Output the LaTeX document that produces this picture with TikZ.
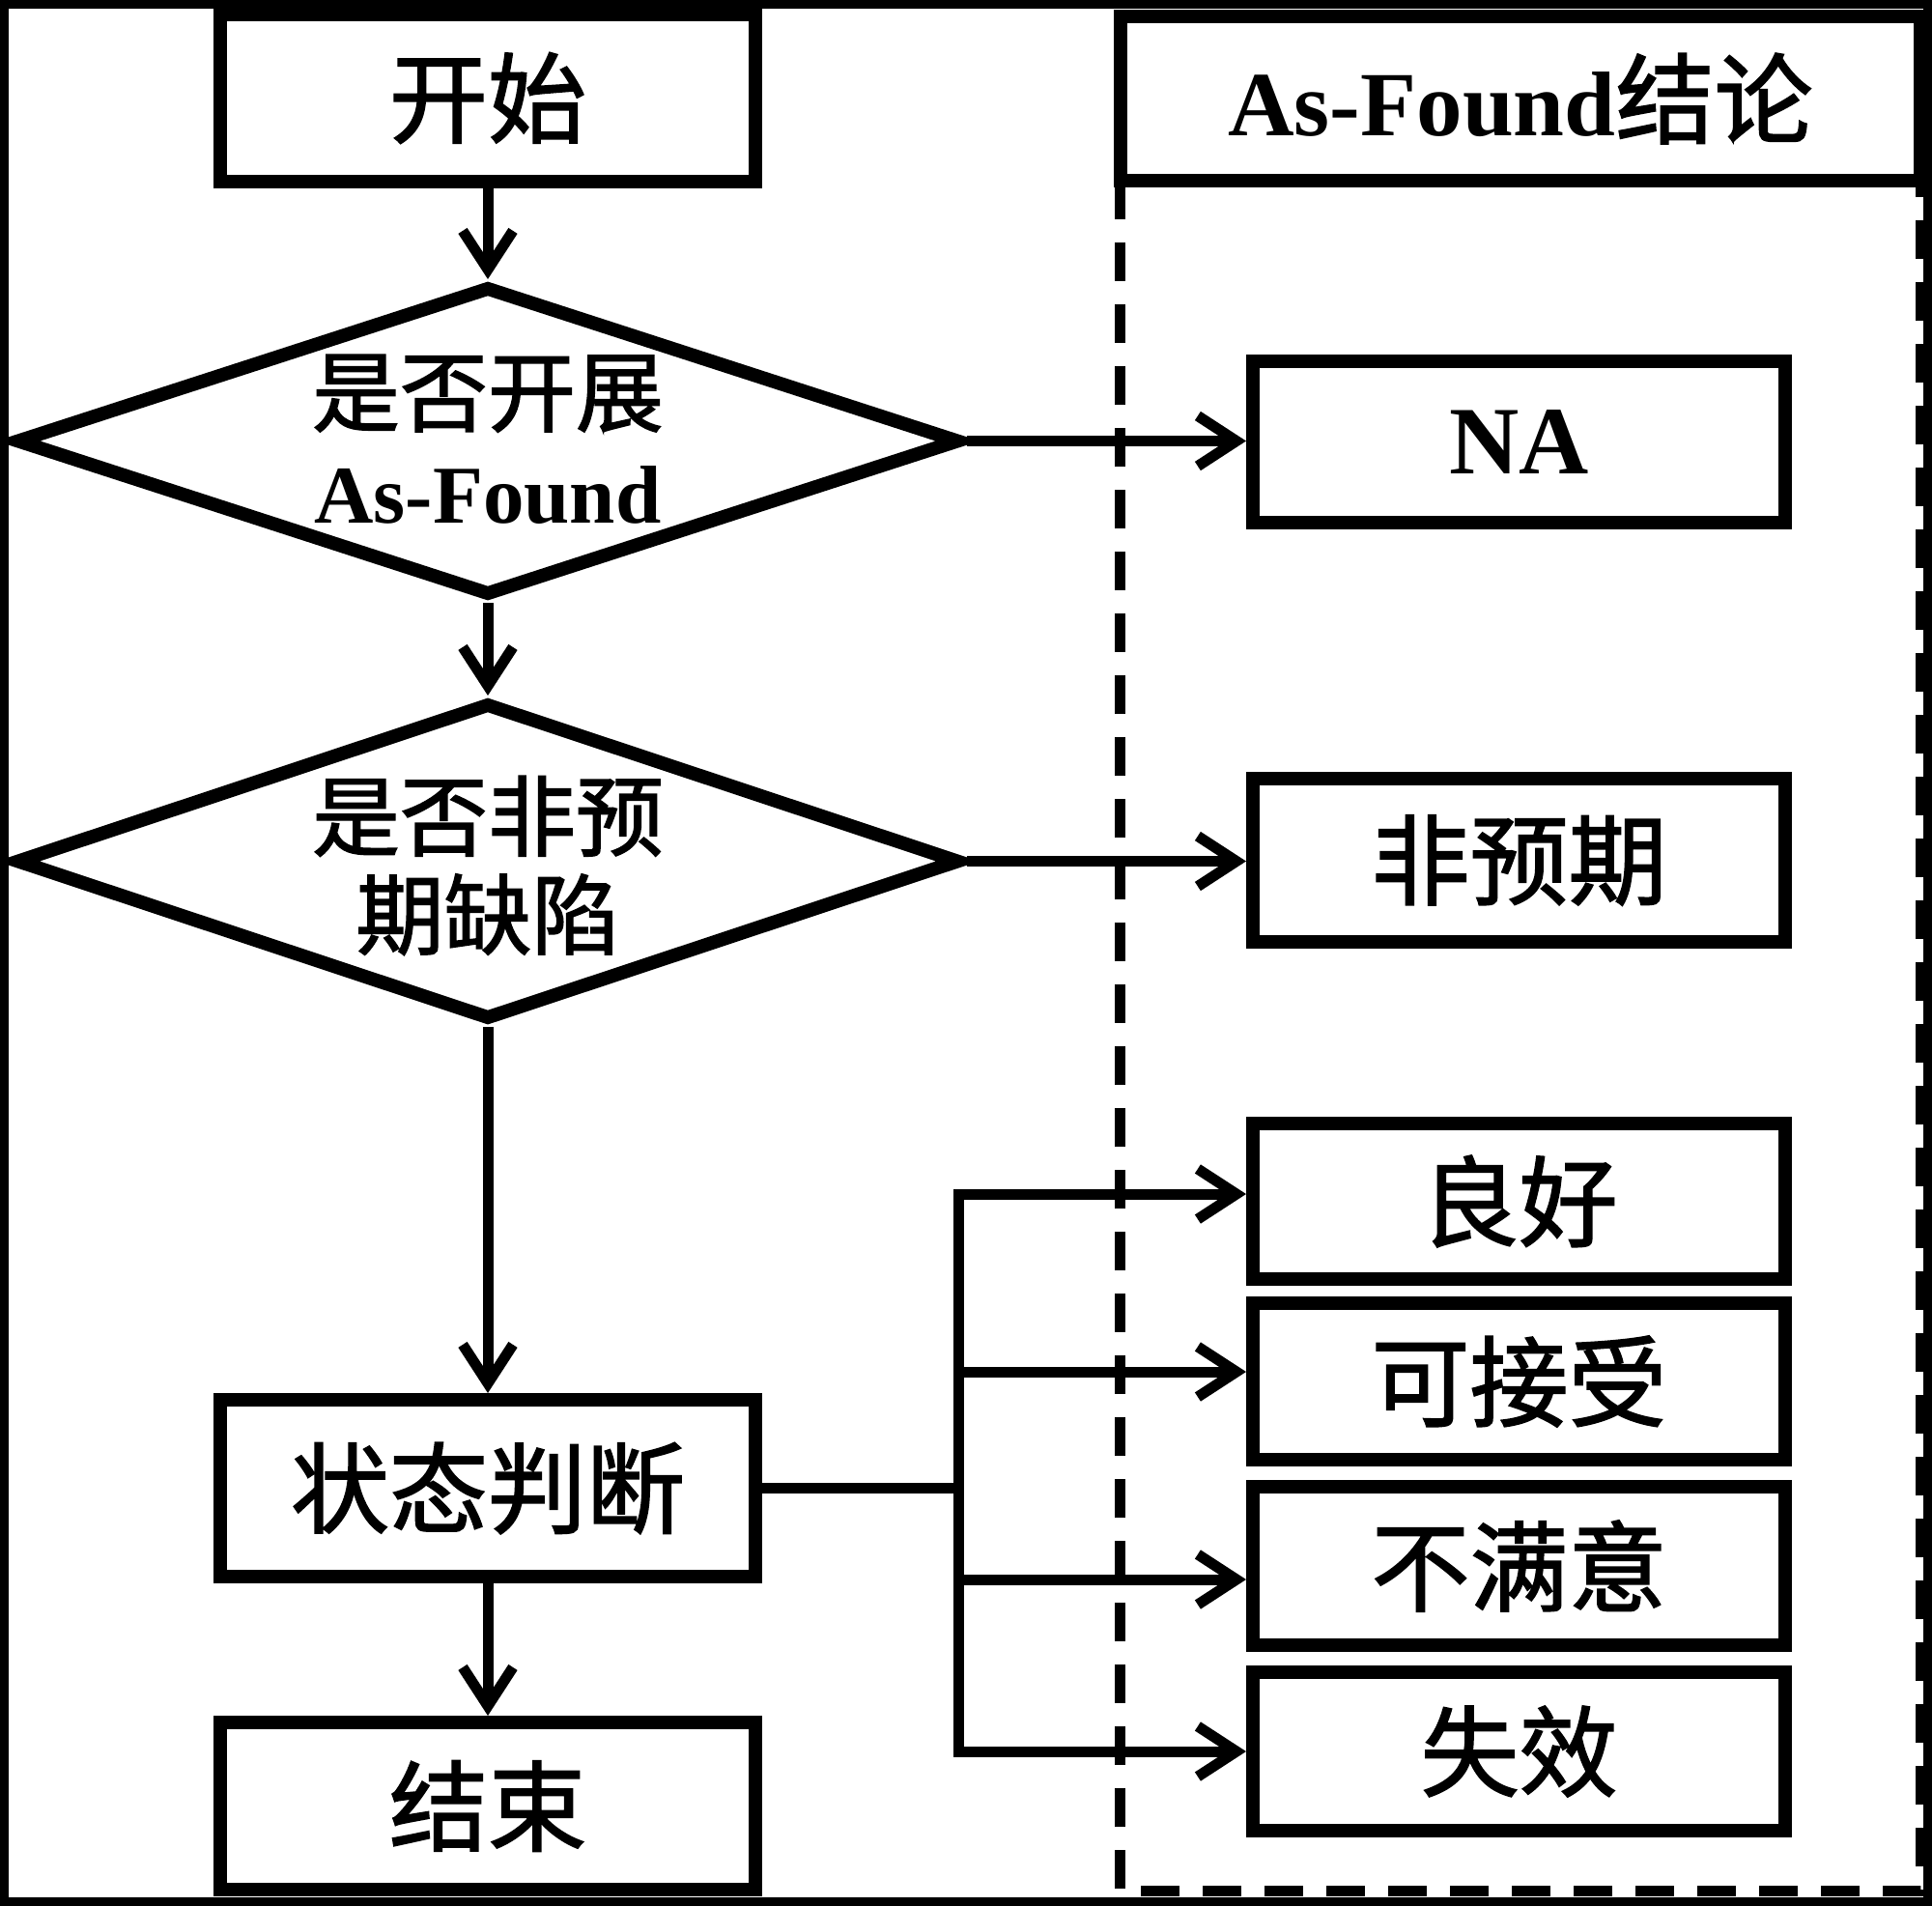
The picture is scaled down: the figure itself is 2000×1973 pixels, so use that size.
\documentclass[tikz,border=0pt]{standalone}
\usepackage{fontspec}
\setmainfont{Liberation Serif}
\newfontfamily\cjk[FakeBold=1.6]{Noto Sans CJK SC}
\usetikzlibrary{arrows.meta,shapes.geometric}
\begin{document}
\begin{tikzpicture}[x=1pt,y=-1pt,
  box/.style={draw, line width=14pt, inner sep=0pt, minimum width=554pt, minimum height=173pt, font=\cjk\fontsize{102}{110}\selectfont},
  rbox/.style={box, minimum width=551pt, minimum height=164pt},
  dia/.style={draw, diamond, line width=14pt, inner sep=0pt, minimum width=978pt},
  dtext/.style={align=center, inner sep=0pt, font=\fontsize{91}{102}\selectfont},
  link/.style={line width=11pt},
  conn/.style={link, -{Straight Barb[length=40pt,width=52pt]}},
  dashline/.style={line width=11pt, dash pattern=on 40pt off 24pt}
]
\useasboundingbox (0,0) rectangle (2000,1973);
\draw[line width=9pt] (4.5,4.5) rectangle (1995.5,1968.5);

% left column
\node[box] (start) at (505,101.5) {开始};
\node[dia, minimum height=321pt] (d1) at (505,456.5) {};
\node[dtext] (t1) at (505,455) {{\cjk 是否开展}\\{\bfseries\fontsize{85}{102}\selectfont As-Found}};
\node[dia, minimum height=329pt] (d2) at (505,891.5) {};
\node[dtext] (t2) at (505,896) {{\cjk 是否非预}\\{\cjk 期缺陷}};
\node[box, minimum height=183pt] (judge) at (505,1540.5) {状态判断};
\node[box] (end) at (505,1869.5) {结束};

% right column
\node[box, minimum width=828pt, minimum height=170pt] (head) at (1574,102)
  {{\rmfamily\bfseries\fontsize{95}{110}\selectfont As-Found}结论};
\draw[dashline] (1159,187) -- (1159,1957) -- (1988,1957) -- (1988,187);
\node[rbox, minimum height=167pt] (na) at (1572.5,457.5) {{\rmfamily\bfseries\fontsize{100}{110}\selectfont NA}};
\node[rbox, minimum height=169pt] (unexp) at (1572.5,890.5) {非预期};
\node[rbox, minimum height=161pt] (good) at (1572.5,1243.5) {良好};
\node[rbox, minimum height=162pt] (acc) at (1572.5,1430) {可接受};
\node[rbox] (unsat) at (1572.5,1621) {不满意};
\node[rbox] (fail) at (1572.5,1813) {失效};

% bus coordinates
\coordinate (b1) at (992,1236);
\coordinate (b2) at (992,1420);
\coordinate (bj) at (992,1540.5);
\coordinate (b3) at (992,1635);
\coordinate (b4) at (992,1813);

% connectors
\draw[conn] (start.south) -- (d1.north);
\draw[conn] (d1.south) -- (d2.north);
\draw[conn] (d2.south) -- (judge.north);
\draw[conn] (judge.south) -- (end.north);
\draw[conn] (d1.east) -- (d1.east -| na.west);
\draw[conn] (d2.east) -- (d2.east -| unexp.west);
\draw[link] (judge.east) -- (bj);
\draw[link, line cap=rect] (b1) -- (b4);
\draw[conn] (b1) -- (b1 -| good.west);
\draw[conn] (b2) -- (b2 -| acc.west);
\draw[conn] (b3) -- (b3 -| unsat.west);
\draw[conn] (b4) -- (b4 -| fail.west);
\end{tikzpicture}
\end{document}
